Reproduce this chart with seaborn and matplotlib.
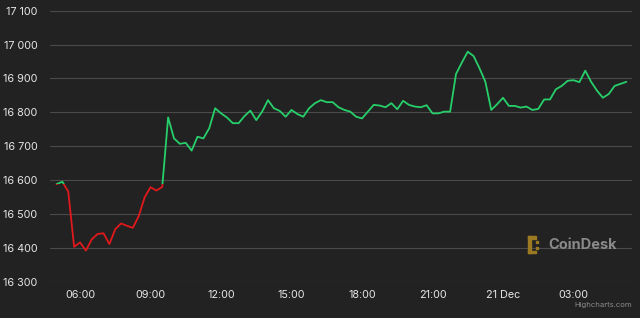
import numpy as np
import pandas as pd
import matplotlib
matplotlib.use("Agg")
import matplotlib.pyplot as plt
from matplotlib.patches import Rectangle
import seaborn as sns

# ---- data (15-minute BTC price, 20-21 Dec) ----
start_time = "2022-12-20 05:00"
prices = [
    16588, 16595, 16566, 16403, 16416, 16392, 16425, 16441, 16443, 16411,
    16455, 16472, 16465, 16459, 16494, 16549, 16579, 16569, 16580, 16785,
    16723, 16707, 16710, 16687, 16728, 16723, 16753, 16812, 16797, 16785,
    16768, 16768, 16789, 16805, 16777, 16802, 16836, 16812, 16804, 16787,
    16807, 16795, 16787, 16812, 16827, 16836, 16830, 16830, 16815, 16807,
    16802, 16787, 16782, 16802, 16822, 16820, 16815, 16827, 16809, 16834,
    16822, 16817, 16815, 16821, 16797, 16797, 16802, 16802, 16913, 16947,
    16979, 16966, 16930, 16890, 16807, 16824, 16843, 16819, 16819, 16814,
    16817, 16807, 16810, 16838, 16838, 16868, 16878, 16893, 16895, 16889,
    16923, 16890, 16864, 16843, 16854, 16878, 16884, 16890,
]
y_ticks = [16300, 16400, 16500, 16600, 16700, 16800, 16900, 17000, 17100]
x_tick_times = ["2022-12-20 06:00", "2022-12-20 09:00", "2022-12-20 12:00",
                "2022-12-20 15:00", "2022-12-20 18:00", "2022-12-20 21:00",
                "2022-12-21 00:00", "2022-12-21 03:00"]
x_tick_labels = ["06:00", "09:00", "12:00", "15:00", "18:00", "21:00",
                 "21 Dec", "03:00"]

times = pd.date_range(start_time, periods=len(prices), freq="15min")
df = pd.DataFrame({"time": times, "price": prices})
threshold = prices[0]

BG = "#222222"
GREEN = "#27cf6a"
RED = "#e0191c"

sns.set_theme(style="dark")
plt.rcParams["font.family"] = ["Inter", "DejaVu Sans"]

fig = plt.figure(figsize=(6.4, 3.18), dpi=100, facecolor=BG)
ax = fig.add_axes([50 / 640, 1 - 281.7 / 318, 582 / 640, (281.7 - 10.7) / 318])
ax.set_facecolor(BG)

# hours since first point for numeric x
df["h"] = (df["time"] - df["time"].iloc[0]).dt.total_seconds() / 3600.0
tick_h = [(pd.Timestamp(t) - df["time"].iloc[0]).total_seconds() / 3600.0
          for t in x_tick_times]

for color, above in [(GREEN, True), (RED, False)]:
    sns.lineplot(data=df, x="h", y="price", ax=ax, color=color,
                 linewidth=1.3, zorder=3)
    line = ax.lines[-1]
    if above:
        clip = Rectangle((-10, threshold), 100, 10000, transform=ax.transData)
    else:
        clip = Rectangle((-10, threshold - 10000), 100, 10000, transform=ax.transData)
    line.set_clip_path(clip)

xmin = (pd.Timestamp("2022-12-20 06:00") - df["time"].iloc[0]).total_seconds() / 3600.0 - 30 / 23.5
ax.set_xlim(xmin, xmin + 582 / 23.5)
ax.set_ylim(16300, 17100)

ax.set_yticks(y_ticks)
ax.set_yticklabels([f"{v:,}".replace(",", " ") for v in y_ticks])
ax.set_xticks(tick_h)
ax.set_xticklabels(x_tick_labels)
ax.tick_params(axis="both", length=0, colors="#e6e6e6", labelsize=7.8)
ax.tick_params(axis="y", pad=9)
ax.tick_params(axis="x", pad=6)
ax.set_xlabel("")
ax.set_ylabel("")
ax.grid(False)
for yv in y_ticks:
    ax.axhline(yv, color="#4a4a4a" if yv != 16300 else "#6a6a6a",
               linewidth=0.8, zorder=1)
for s in ax.spines.values():
    s.set_visible(False)

# watermark
fig.text(548 / 640, 1 - 245 / 318, "CoinDesk", color="#8a8a8a", fontsize=10.5,
         fontweight="bold", ha="left", va="center")
gold = "#9c7a22"
for (x0, y0, w, h) in [(528, 236, 2.5, 17), (528, 236, 8, 2.5), (528, 250.5, 8, 2.5),
                       (536, 241, 2, 2), (536, 247, 2, 2)]:
    fig.patches.append(Rectangle((x0 / 640, 1 - (y0 + h) / 318), w / 640, h / 318,
                                 transform=fig.transFigure, color=gold))
fig.text(632 / 640, 1 - 305 / 318, "Highcharts.com", color="#8c8c8c", fontsize=5.5,
         ha="right", va="center")

fig.savefig("out.png", dpi=100, facecolor=BG)
